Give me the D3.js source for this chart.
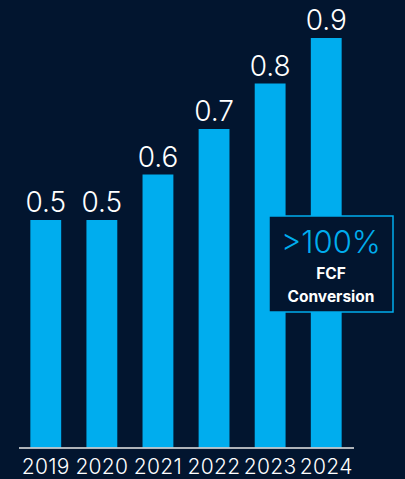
<!DOCTYPE html>
<html><head><meta charset="utf-8">
<script src="https://cdn.jsdelivr.net/npm/d3@7"></script>
<style>html,body{margin:0;padding:0;background:#02152f;}svg{display:block;}</style>
</head><body>
<script>
const years = ["2019","2020","2021","2022","2023","2024"];
const values = [0.5,0.5,0.6,0.7,0.8,0.9];
const labels = ["0.5","0.5","0.6","0.7","0.8","0.9"];
const calloutTitle = ">100%";
const calloutLines = ["FCF","Conversion"];

const W=405,H=479;
const svg=d3.select("body").append("svg").attr("width",W).attr("height",H);
svg.append("rect").attr("width",W).attr("height",H).attr("fill","#02152f");
const base=447.5;
const x=d3.scaleBand().domain(years).range([18,354]).paddingInner(0.45).paddingOuter(0.22);
const y=d3.scaleLinear().domain([0,0.9]).range([base,38]);
const font="Inter, 'Open Sans', sans-serif";

svg.selectAll("rect.bar").data(values).join("rect").attr("class","bar")
 .attr("x",(d,i)=>x(years[i])).attr("width",x.bandwidth())
 .attr("y",d=>y(d)).attr("height",d=>base-y(d)).attr("fill","#00adee");

svg.selectAll("text.val").data(values).join("text").attr("class","val")
 .attr("x",(d,i)=>x(years[i])+x.bandwidth()/2).attr("y",d=>y(d)-8)
 .attr("text-anchor","middle").attr("fill","#ffffff")
 .attr("font-family",font).attr("font-weight",300).attr("font-size",28)
 .text((d,i)=>labels[i]);

svg.append("line").attr("x1",19).attr("x2",354).attr("y1",base+0.5).attr("y2",base+0.5)
 .attr("stroke","#e8e8e8").attr("stroke-width",1.5);

const ax=svg.append("g").attr("transform",`translate(0,${base})`).call(d3.axisBottom(x).tickSize(0).tickPadding(0));
ax.select(".domain").remove();
ax.selectAll("text").attr("y",26.5).attr("dy",0).attr("fill","#ffffff")
 .attr("font-family",font).attr("font-weight",300).attr("font-size",21)
 .attr("letter-spacing",0.3);

const bx=269,by=216,bw=124,bh=96;
svg.append("rect").attr("x",bx).attr("y",by).attr("width",bw).attr("height",bh)
 .attr("fill","#02152f").attr("stroke","#00adee").attr("stroke-width",1.5);
svg.append("text").attr("x",bx+bw/2).attr("y",253).attr("text-anchor","middle")
 .attr("fill","#00adee").attr("font-family",font).attr("font-weight",300).attr("font-size",31)
 .text(calloutTitle);
svg.selectAll("text.cl").data(calloutLines).join("text").attr("class","cl")
 .attr("x",bx+bw/2).attr("y",(d,i)=>279+i*23).attr("text-anchor","middle")
 .attr("fill","#ffffff").attr("font-family",font).attr("font-weight",700).attr("font-size",15.5)
 .text(d=>d);
</script>
</body></html>
